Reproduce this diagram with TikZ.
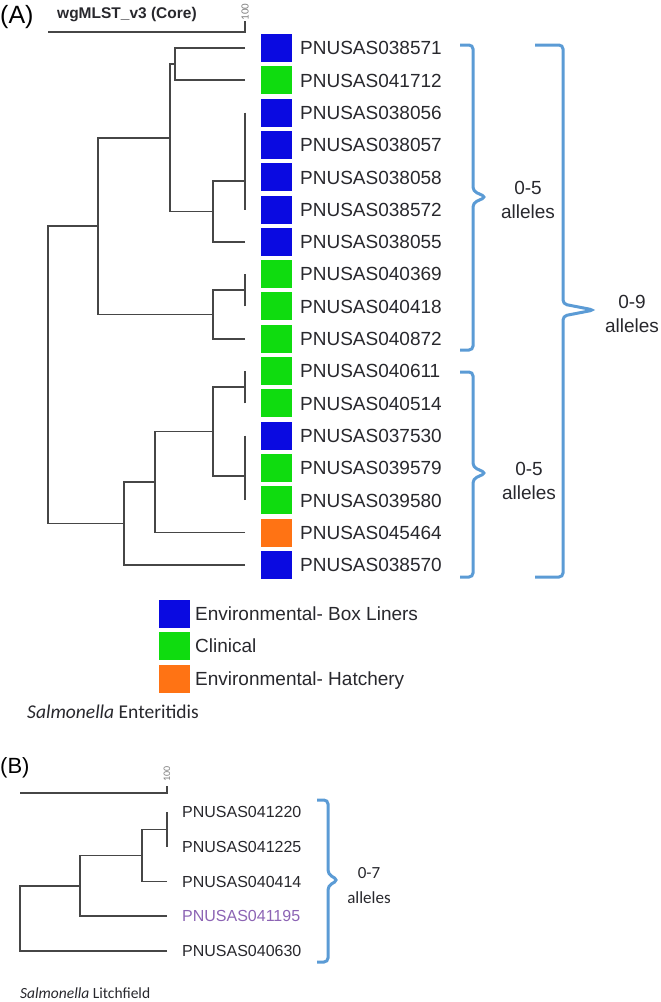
\documentclass[tikz,border=0pt]{standalone}
\usepackage{fontspec}
\setmainfont{Liberation Sans}
\newfontfamily\calfont{Carlito}
\definecolor{treegray}{RGB}{70,70,70}
\definecolor{txtgray}{RGB}{40,40,45}
\definecolor{envblue}{RGB}{10,10,225}
\definecolor{clingreen}{RGB}{15,220,15}
\definecolor{hatchorange}{RGB}{255,115,20}
\definecolor{brkblue}{RGB}{91,155,213}
\definecolor{lilac}{RGB}{140,100,180}
\tikzset{
  tree/.style={draw=treegray, line width=1.7pt},
  brk/.style={draw=brkblue, line width=3pt, rounded corners=4pt},
  leafbox/.style={minimum width=31pt, minimum height=28pt, inner sep=0pt, draw=none},
  leaflabel/.style={anchor=base west, inner sep=0pt, text=txtgray, font=\fontsize{19}{19}\selectfont},
  leaflabelB/.style={anchor=base west, inner sep=0pt, text=txtgray, font=\fontsize{16}{16}\selectfont},
  bracelabel/.style={align=center, inner sep=0pt, text=txtgray, font=\fontsize{19}{24}\selectfont},
  scalelabel/.style={rotate=90, inner sep=0pt, text=gray, font=\calfont\fontsize{11}{11}\selectfont},
  panellabel/.style={anchor=west, inner sep=0pt, text=black},
}
\newcommand\mybrk[6]{% x0, xv, ytop, ybot, ytip, xtip
  \draw[brk] (#1,#3) -- (#2,#3) -- (#2,#5-6) -- (#6,#5) -- (#2,#5+6) -- (#2,#4) -- (#1,#4);}
\begin{document}
\begin{tikzpicture}[x=1pt,y=-1pt]
\useasboundingbox (0,0) rectangle (661,1002);

% ---------------- Panel A ----------------
\node[panellabel, font=\fontsize{25}{25}\selectfont] (labA) at (0,17) {(A)};
\node[anchor=base west, inner sep=0pt, text=txtgray, font=\bfseries\fontsize{15.5}{15.5}\selectfont] (titleA) at (57,18) {wgMLST\_v3 (Core)};
\coordinate (sA0) at (48,32);
\coordinate (sA1) at (245,32);
\coordinate (sA2) at (245,21);
\draw[tree] (sA0) -- (sA1) -- (sA2);
\node[scalelabel] (hundA) at (245,12) {100};

\foreach \i/\id/\col in {1/038571/envblue,2/041712/clingreen,3/038056/envblue,4/038057/envblue,
  5/038058/envblue,6/038572/envblue,7/038055/envblue,8/040369/clingreen,9/040418/clingreen,
  10/040872/clingreen,11/040611/clingreen,12/040514/clingreen,13/037530/envblue,
  14/039579/clingreen,15/039580/clingreen,16/045464/hatchorange,17/038570/envblue}{
  \pgfmathsetmacro\yy{48+32.3*(\i-1)}
  \coordinate (tip\i) at (245,\yy);
  \node[leafbox, fill=\col] (box\i) at (276.5,\yy) {};
  \node[leaflabel] (lab\i) at (300,\yy+6.8) {PNUSAS\id};
}

\coordinate (a12) at (175,64.15);
\coordinate (a3456) at (245,181.24);
\coordinate (a37) at (213,211.52);
\coordinate (a17) at (170,137.84);
\coordinate (a89) at (245,290.25);
\coordinate (a810) at (213,314.48);
\coordinate (aup) at (98,226.16);
\coordinate (a1112) at (245,387.15);
\coordinate (a1315) at (245,475.98);
\coordinate (a1115) at (213,431.56);
\coordinate (a1116) at (155,482.03);
\coordinate (a1117) at (124,523.42);
\coordinate (aroot) at (48,374.79);

\draw[tree] (tip1) -| (a12);
\draw[tree] (tip2) -| (a12);
\draw[tree] (a12) -| (a17);
\draw[tree] (a37) -| (a17);
\foreach \i in {3,4,5,6}{\draw[tree] (tip\i) -| (a3456);}
\draw[tree] (a3456) -| (a37);
\draw[tree] (tip7) -| (a37);
\draw[tree] (tip8) -| (a89);
\draw[tree] (tip9) -| (a89);
\draw[tree] (a89) -| (a810);
\draw[tree] (tip10) -| (a810);
\draw[tree] (a17) -| (aup);
\draw[tree] (a810) -| (aup);
\draw[tree] (aup) -| (aroot);
\draw[tree] (a1117) -| (aroot);
\draw[tree] (tip11) -| (a1112);
\draw[tree] (tip12) -| (a1112);
\draw[tree] (a1112) -| (a1115);
\foreach \i in {13,14,15}{\draw[tree] (tip\i) -| (a1315);}
\draw[tree] (a1315) -| (a1115);
\draw[tree] (a1115) -| (a1116);
\draw[tree] (tip16) -| (a1116);
\draw[tree] (a1116) -| (a1117);
\draw[tree] (tip17) -| (a1117);

% brackets A
\mybrk{460}{473}{45}{350}{197}{486}
\mybrk{460}{473}{372}{577}{473}{486}
\mybrk{535}{563}{45}{577}{310}{594}
\node[bracelabel] (grp1) at (528,200) {0-5\\alleles};
\node[bracelabel] (grp2) at (529,481) {0-5\\alleles};
\node[bracelabel] (grp3) at (632,314) {0-9\\alleles};

% legend
\node[leafbox, fill=envblue] (legb1) at (174.5,613.5) {};
\node[leafbox, fill=clingreen] (legb2) at (174.5,646) {};
\node[leafbox, fill=hatchorange] (legb3) at (174.5,678.5) {};
\node[leaflabel] (legt1) at (195,613.5+6.8) {Environmental- Box Liners};
\node[leaflabel] (legt2) at (195,646+6.8) {Clinical};
\node[leaflabel] (legt3) at (195,678.5+6.8) {Environmental- Hatchery};

\node[anchor=base west, inner sep=0pt, text=txtgray, font=\calfont\fontsize{19.5}{19.5}\selectfont] (capA) at (27,718) {\textit{Salmonella} Enteritidis};

% ---------------- Panel B ----------------
\node[panellabel, font=\fontsize{22}{22}\selectfont] (labB) at (0,768) {(B)};
\coordinate (sB0) at (20,793);
\coordinate (sB1) at (167,793);
\coordinate (sB2) at (167,786);
\draw[tree] (sB0) -- (sB1) -- (sB2);
\node[scalelabel, font=\calfont\fontsize{10}{10}\selectfont] (hundB) at (167,774) {100};

\foreach \i/\id/\col in {1/041220/txtgray,2/041225/txtgray,3/040414/txtgray,4/041195/lilac,5/040630/txtgray}{
  \pgfmathsetmacro\yy{812+34.7*(\i-1)}
  \coordinate (btip\i) at (167,\yy);
  \node[leaflabelB, text=\col] (blab\i) at (182,\yy+5.7) {PNUSAS\id};
}
\coordinate (b12) at (167,829.35);
\coordinate (b123) at (142,855.38);
\coordinate (b1234) at (80,885.74);
\coordinate (broot) at (20,918.27);
\draw[tree] (btip1) -| (b12);
\draw[tree] (btip2) -| (b12);
\draw[tree] (b12) -| (b123);
\draw[tree] (btip3) -| (b123);
\draw[tree] (b123) -| (b1234);
\draw[tree] (btip4) -| (b1234);
\draw[tree] (b1234) -| (broot);
\draw[tree] (btip5) -| (broot);

\mybrk{317}{328}{800}{962}{880}{338}
\node[align=center, inner sep=0pt, text=txtgray, font=\calfont\fontsize{17}{25}\selectfont] (grpB) at (369,886) {0-7\\alleles};

\node[anchor=base west, inner sep=0pt, text=txtgray, font=\calfont\fontsize{15.5}{15.5}\selectfont] (capB) at (20,998) {\textit{Salmonella} Litchfield};
\end{tikzpicture}
\end{document}
